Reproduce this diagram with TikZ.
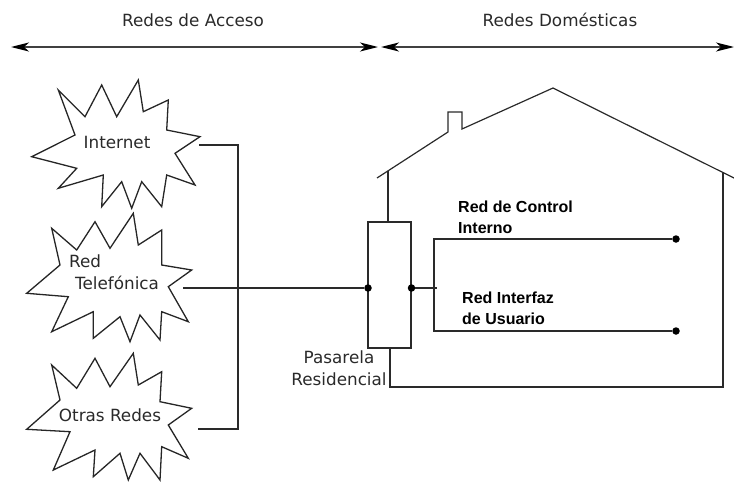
\documentclass[tikz,border=0pt]{standalone}
\usepackage{fontspec}
\setmainfont{DejaVu Sans}
\newfontfamily\boldlab{Liberation Sans}
\usetikzlibrary{arrows.meta}
\definecolor{ink}{HTML}{2A2A2A}
\definecolor{lin}{HTML}{2A2A2A}
\begin{document}
\begin{tikzpicture}[x=1pt,y=-1pt,
  lab/.style={font=\fontsize{16.8}{21}\selectfont, text=ink, inner sep=0pt},
  blab/.style={font=\boldlab\bfseries\fontsize{16}{21}\selectfont, text=black, inner sep=0pt, align=left, anchor=north west},
  ln/.style={draw=lin, line width=1.2pt},
  starline/.style={draw=black!85, line width=1.3pt, line join=miter, fill=white},
  span/.style={draw=black!75, line width=1.6pt, {Stealth[length=18pt,width=9pt,inset=5pt,color=black]}-{Stealth[length=18pt,width=9pt,inset=5pt,color=black]}},
  dotn/.style={circle, fill=black, inner sep=0pt, minimum size=7.5pt}
]
\useasboundingbox (0,0) rectangle (734,482);

% top spans
\coordinate (a1) at (11,47); \coordinate (a2) at (378,47);
\coordinate (b1) at (381,47); \coordinate (b2) at (734,47);
\draw[span] (a1) -- (a2);
\draw[span] (b1) -- (b2);
\node[lab] (tacc) at (193,20) {Redes de Acceso};
\node[lab] (tdom) at (560,20) {Redes Domésticas};

% stars
\draw[starline] (31.7,156.7) -- (75,135) -- (58.3,90) -- (85,116.7) -- (101.7,85) -- (116.7,116.7) -- (138.3,80) -- (143.3,111.7) -- (168.3,100) -- (166.7,130) -- (200,136.7) -- (175,153.3) -- (195,185) -- (166.7,175) -- (161.7,206.7) -- (141.7,181.7) -- (131.7,208.3) -- (121.7,181.7) -- (101.7,206.7) -- (103.3,175) -- (58.3,188.3) -- (76.7,168.3) -- cycle;
\draw[starline] (26.7,293.3) -- (60,265) -- (51.7,228.3) -- (76.7,250) -- (95,221.7) -- (110,248.3) -- (133.3,213.3) -- (138.3,245) -- (161.7,230) -- (161.7,265) -- (191.7,270) -- (168.3,286.7) -- (188.3,321.7) -- (161.7,311.7) -- (160,340) -- (140,315) -- (130,341.7) -- (120,316.7) -- (93.3,338.3) -- (93.3,311.7) -- (51.7,331.7) -- (68.3,296.7) -- cycle;
\draw[starline] (26.7,429.3) -- (60,400) -- (51.7,365) -- (76.7,388.3) -- (95,358.3) -- (110,386.7) -- (133.3,353.3) -- (138.3,385) -- (161.7,371.7) -- (160,401.7) -- (191.7,408.3) -- (168.3,425) -- (188.3,458.3) -- (161.7,446.7) -- (160,480) -- (140,453.3) -- (128.3,480) -- (120,453.3) -- (93.3,476.7) -- (95,450) -- (53.3,470) -- (70,431.7) -- cycle;

\node[lab] (inet) at (117,142) {Internet};
\node[lab, align=left, anchor=north west] (tel) at (69,255) {Red\\[1pt]\hspace*{6pt}Telefónica};
\node[lab] (otras) at (110,415) {Otras Redes};

% connectors on the left
\coordinate (c1) at (199,145); \coordinate (c1r) at (238,145);
\coordinate (c3) at (198,429); \coordinate (c3r) at (238,429);
\coordinate (c2) at (183,288);
\draw[ln] (c1) -- (c1r) -- (c3r) -- (c3);

% house
\coordinate (r0) at (377,178); \coordinate (ch1) at (448,132); \coordinate (ch2) at (448,112);
\coordinate (ch3) at (462,112); \coordinate (ch4) at (462,129); \coordinate (apex) at (553,88);
\coordinate (r1) at (734,178);
\draw[ln, line join=miter] (r0) -- (ch1) -- (ch2) -- (ch3) -- (ch4) -- (apex) -- (r1);
\node[draw=lin, line width=1.2pt, minimum width=43pt, minimum height=126pt, inner sep=0pt] (gw) at (389.5,285) {};
\coordinate (wl) at (388,171);
\draw[ln] (wl) -- (wl |- gw.north);
\coordinate (wb) at (390,387); \coordinate (wbr) at (723,387); \coordinate (wtr) at (723,172);
\draw[ln, line join=miter] (wb |- gw.south) -- (wb) -- (wbr) -- (wtr);

\node[dotn] (dl) at (368,288) {};
\node[dotn] (dr) at (411.5,288) {};
\draw[ln] (c2) -- (dl);
\coordinate (bj) at (437,288);
\draw[ln] (dr) -- (bj);
\coordinate (bt) at (434,239); \coordinate (bb) at (434,331);
\node[dotn] (e1) at (676,239) {};
\node[dotn] (e2) at (676,331) {};
\draw[ln] (e1) -- (bt) -- (bb) -- (e2);

\node[blab] (rci) at (458,201) {Red de Control\\Interno};
\node[blab] (riu) at (462,292) {Red Interfaz\\de Usuario};
\node[lab, align=center] (pas) at (339,368) {Pasarela\\[1pt]Residencial};
\end{tikzpicture}
\end{document}
